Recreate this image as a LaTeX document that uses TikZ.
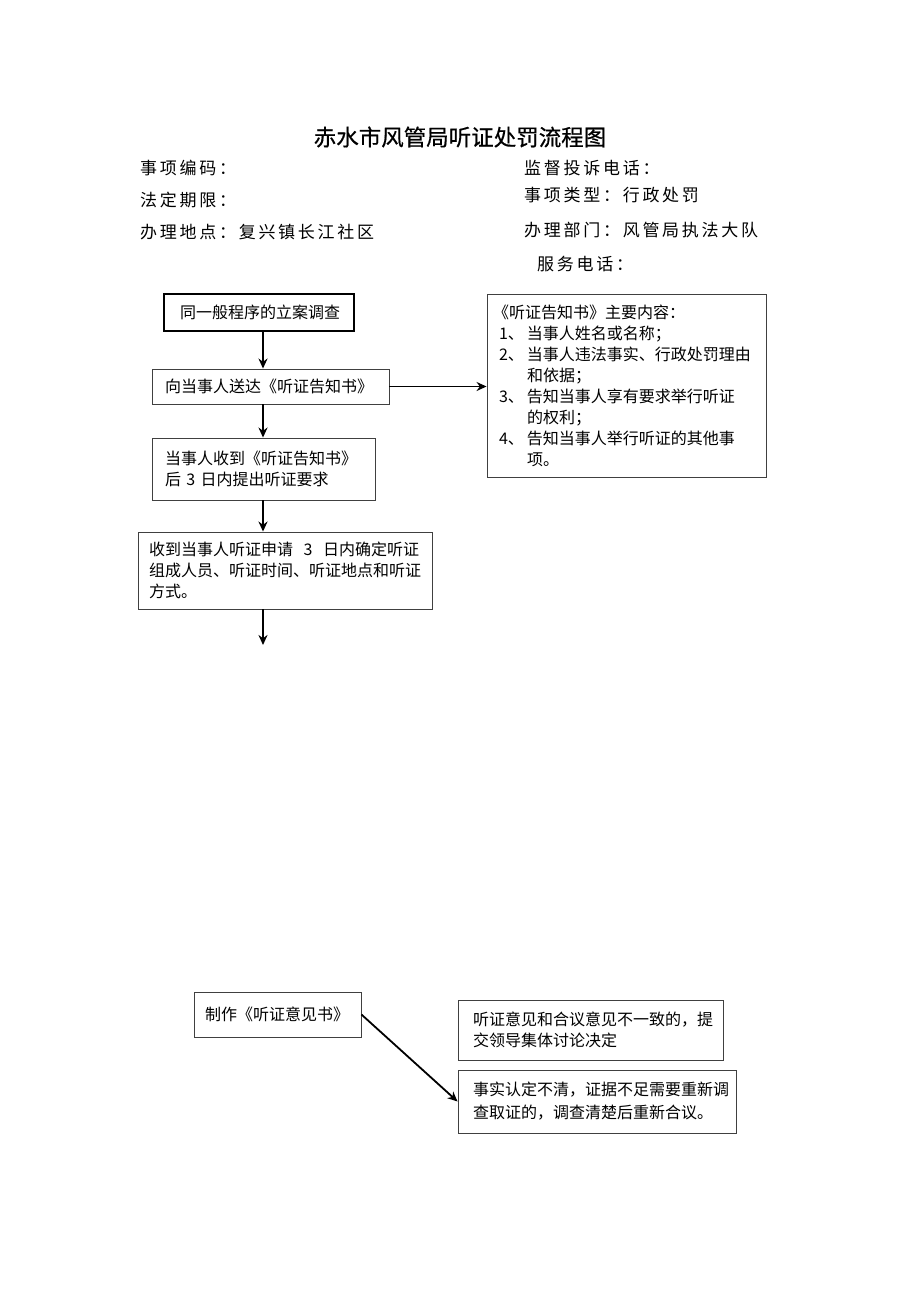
\documentclass[tikz,border=0pt]{standalone}
\usepackage{fontspec}
\setmainfont{Noto Sans CJK SC}
\newfontfamily\hdr[LetterSpace=16]{Noto Sans CJK SC}
\newfontfamily\ttl[FakeBold=0.6]{Noto Sans CJK SC}
\usetikzlibrary{arrows.meta}
\begin{document}
\begin{tikzpicture}[x=1pt,y=-1pt,
  box/.style={draw=black!75,line width=0.9pt,align=left,inner ysep=0pt,
    font=\fontsize{16}{21}\selectfont},
  hd/.style={anchor=west,inner sep=0pt,font=\hdr\fontsize{17}{20}\selectfont},
  arr/.style={line width=1.8pt,-{Stealth[length=10pt,width=9pt]}}]
\useasboundingbox (0,0) rectangle (920,1301);
\node[inner sep=0pt,font=\ttl\fontsize{22.5}{26}\selectfont] (title) at (460,137) {赤水市风管局听证处罚流程图};
\node[hd] (h1) at (140,168) {事项编码：};
\node[hd] (h2) at (140,200) {法定期限：};
\node[hd] (h3) at (140,232) {办理地点：复兴镇长江社区};
\node[hd] (h4) at (524,168) {监督投诉电话：};
\node[hd] (h5) at (524,195) {事项类型：行政处罚};
\node[hd] (h6) at (524,230) {办理部门：风管局执法大队};
\node[hd] (h7) at (537,264) {服务电话：};
\coordinate (sp) at (263,0);
\node[box,draw=black,line width=1.8pt,minimum height=37pt,text width=158pt,inner xsep=16pt] (b1) at (259,312.5) {同一般程序的立案调查};
\node[box,minimum height=35pt,text width=211pt,inner xsep=13pt] (b2) at (270.5,386.5) {向当事人送达《听证告知书》};
\node[box,minimum height=62pt,text width=197pt,inner xsep=13pt] (b3) at (263.5,469) {当事人收到《听证告知书》\\后~3~日内提出听证要求};
\node[box,minimum height=77pt,text width=272pt,inner xsep=11pt] (b4) at (285,570.5) {收到当事人听证申请~~3~~日内确定听证\\组成人员、听证时间、听证地点和听证\\方式。};
\node[box,minimum height=183pt,text width=267pt,inner xsep=6pt] (br) at (626.5,385.5) {《听证告知书》主要内容：\\
\hspace*{6pt}\makebox[28pt][l]{1、}当事人姓名或名称；\\
\hspace*{6pt}\makebox[28pt][l]{2、}当事人违法事实、行政处罚理由\\
\hspace*{34pt}和依据；\\
\hspace*{6pt}\makebox[28pt][l]{3、}告知当事人享有要求举行听证\\
\hspace*{34pt}的权利；\\
\hspace*{6pt}\makebox[28pt][l]{4、}告知当事人举行听证的其他事\\
\hspace*{34pt}项。};
\coordinate (e4) at (263,645);
\draw[arr] (b1.south -| sp) -- (b2.north -| sp);
\draw[arr] (b2.south -| sp) -- (b3.north -| sp);
\draw[arr] (b3.south -| sp) -- (b4.north -| sp);
\draw[arr] (b4.south -| sp) -- (e4);
\draw[arr] (b2.east) -- (br.west |- b2.east);
\node[box,minimum height=45pt,text width=145pt,inner xsep=11pt] (b5) at (277.5,1014.5) {制作《听证意见书》};
\node[box,minimum height=60pt,text width=235pt,inner xsep=15pt] (b6) at (590.5,1030) {听证意见和合议意见不一致的，提\\交领导集体讨论决定};
\node[box,minimum height=63pt,text width=248pt,inner xsep=15pt,font=\fontsize{16}{23}\selectfont] (b7) at (597,1101.5) {事实认定不清，证据不足需要重新调\\查取证的，调查清楚后重新合议。};
\draw[arr] (b5.east) -- (b7.west);
\end{tikzpicture}
\end{document}
